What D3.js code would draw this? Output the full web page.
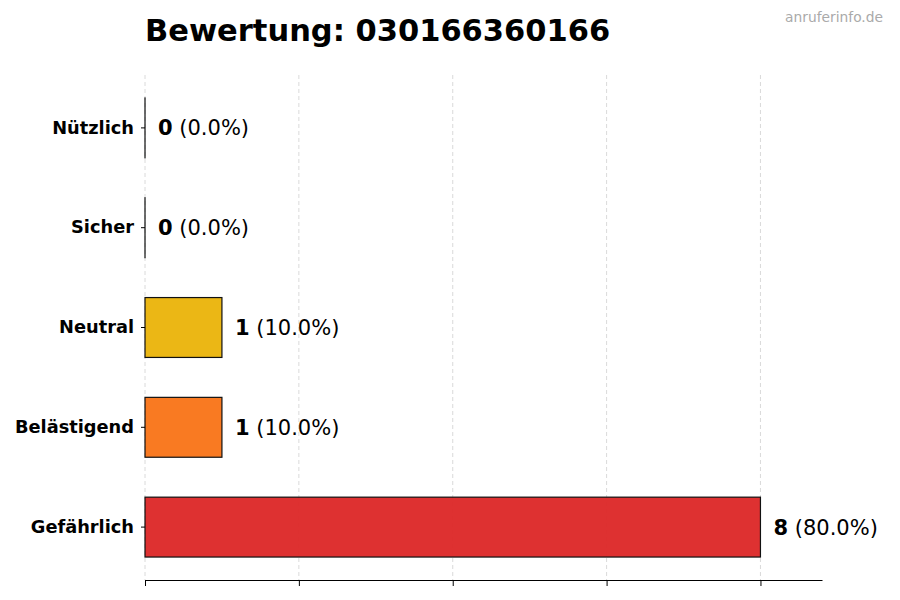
<!DOCTYPE html>
<html>
<head>
<meta charset="utf-8">
<script src="https://cdn.jsdelivr.net/npm/d3@7"></script>
<style>
body{margin:0;background:#fff;font-family:"DejaVu Sans",sans-serif;}
</style>
</head>
<body>
<script>
// data
const categories=["Nützlich","Sicher","Neutral","Belästigend","Gefährlich"];
const counts=[0,0,1,1,8];
const colors=["#3b82f6","#22c55e","#eab308","#f97316","#dc2626"];
const xTicks=[0,2,4,6,8];

const w=900,h=600;
const padL=145,padR=822,padT=75,padB=580;
const total=d3.sum(counts);

const svg=d3.select("body").append("svg")
    .attr("width",w)
    .attr("height",h)

const xScale=d3.scaleLinear().domain([0,8.8]).range([padL,padR]);
const yScale=d3.scaleBand().domain(categories).range([78,577]).paddingInner(0.4).paddingOuter(0.2);

// grid
svg.append("g").selectAll("line")
    .data(xTicks)
    .enter().append("line")
    .attr("x1",d=>xScale(d)).attr("x2",d=>xScale(d))
    .attr("y1",padT).attr("y2",padB)
    .attr("stroke","#d0d0d0")
    .attr("stroke-width",0.8)
    .attr("stroke-dasharray","4,3")

// bars (zero bars keep a hairline so the edge shows)
svg.append("g").selectAll("rect")
    .data(categories)
    .enter().append("rect")
    .attr("x",xScale(0))
    .attr("y",d=>yScale(d))
    .attr("width",(d,i)=>Math.max(0.01,xScale(counts[i])-xScale(0)))
    .attr("height",yScale.bandwidth())
    .attr("fill",(d,i)=>colors[i])
    .attr("fill-opacity",0.95)
    .attr("stroke","#111")
    .attr("stroke-width",1.2)

// value labels
const lab=svg.append("g").selectAll("text")
    .data(categories)
    .enter().append("text")
    .attr("x",(d,i)=>xScale(counts[i])+13)
    .attr("y",d=>yScale(d)+yScale.bandwidth()/2)
    .attr("dy","0.36em")
    .style("font-size","21px")
    .attr("fill","#000")
lab.append("tspan").style("font-weight","bold").text((d,i)=>counts[i])
lab.append("tspan").text((d,i)=>" ("+(counts[i]/total*100).toFixed(1)+"%)")

// axes
const xAxis=d3.axisBottom(xScale).tickValues(xTicks).tickFormat("").tickSize(6).tickSizeOuter(0);
svg.append("g")
    .attr("transform","translate(0,"+padB+")")
    .call(xAxis)
    .call(g=>g.select(".domain").attr("stroke","#000").attr("stroke-width",1.2))

const yAxis=d3.axisLeft(yScale).tickSize(4).tickPadding(7);
svg.append("g")
    .attr("transform","translate("+padL+",0)")
    .call(yAxis)
    .call(g=>g.select(".domain").remove())
    .call(g=>g.selectAll("text").style("font-size","17.8px").style("font-weight","bold").attr("fill","#000").attr("font-family","DejaVu Sans"))

// title
svg.append("text")
    .attr("x",padL).attr("y",41)
    .style("font-size","30.5px").style("font-weight","bold")
    .text("Bewertung: 030166360166")

svg.append("text")
    .attr("x",883).attr("y",22)
    .attr("text-anchor","end")
    .style("font-size","13.8px")
    .attr("fill","#aaa")
    .text("anruferinfo.de")
</script>
</body>
</html>
